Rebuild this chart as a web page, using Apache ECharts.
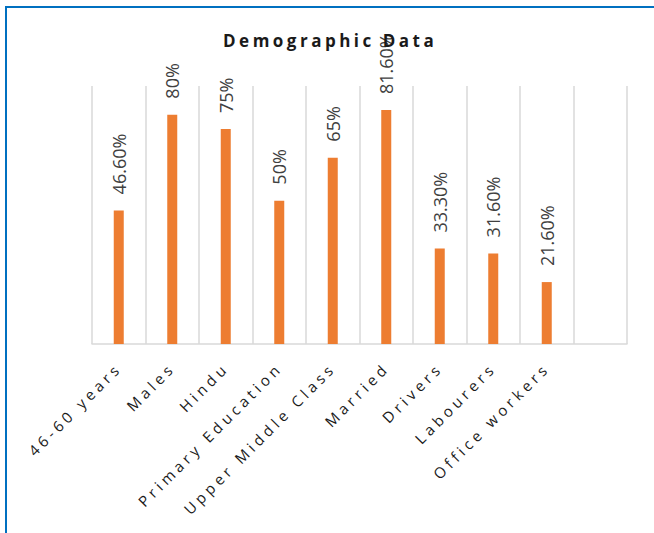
<!DOCTYPE html>
<html>
<head>
<meta charset="utf-8">
<title>Demographic Data</title>
<script src="https://cdn.jsdelivr.net/npm/echarts@6/dist/echarts.min.js"></script>
<style>
    html, body { margin: 0; padding: 0; background: #fff; }
    .com-container { position: relative; width: 654px; height: 533px; }
    .com-chart { width: 654px; height: 533px; }
    /* blue frame of the slide, only top and left edges are visible */
    .frame {
        position: absolute; left: 5px; top: 6px; right: 0; bottom: 0;
        border-left: 2px solid #0070c0; border-top: 2px solid #0070c0;
        pointer-events: none;
    }
</style>
</head>
<body>
<div class="com-container">
    <div class="com-chart" id="demo_chart"></div>
    <div class="frame"></div>
</div>
<script>
// data
const titleText = 'Demographic Data'
const categories = ['46-60 years', 'Males', 'Hindu', 'Primary Education', 'Upper Middle Class',
    'Married', 'Drivers', 'Labourers', 'Office workers', '']
const percentValues = [46.6, 80, 75, 50, 65, 81.6, 33.3, 31.6, 21.6]
const valueMax = 90

const chartInstance = echarts.init(document.getElementById('demo_chart'), null, { renderer: 'svg' })

const option = {
    animation: false,
    title: {
        text: titleText,
        left: 218,
        top: 27,
        textStyle: {
            fontFamily: 'Open Sans',
            fontWeight: 'bold',
            fontSize: 17,
            color: '#1a1a1a'
        }
    },
    grid: {
        top: 86,
        left: 92,
        right: 27,
        bottom: 189
    },
    xAxis: {
        type: 'category',
        data: categories,
        axisLine: { lineStyle: { color: '#d9d9d9', width: 1.5 } },
        axisTick: { show: false },
        splitLine: { show: true, lineStyle: { color: '#d9d9d9', width: 1.5 } },
        axisLabel: {
            interval: 0,
            rotate: 45,
            margin: 21,
            fontFamily: 'Open Sans',
            fontSize: 15,
            color: '#1a1a1a'
        }
    },
    yAxis: {
        type: 'value',
        min: 0,
        max: valueMax,
        show: false,
        splitLine: { show: false }
    },
    series: [
        {
            type: 'bar',
            data: percentValues,
            barWidth: 10,
            itemStyle: { color: '#ed7d31' },
            label: {
                show: true,
                position: 'top',
                distance: 16,
                rotate: 90,
                align: 'left',
                verticalAlign: 'middle',
                fontFamily: 'Open Sans',
                fontSize: 18,
                color: '#404040',
                formatter: (p) => {
                    // 46.6 -> 46.60%, 80 -> 80%
                    return Number.isInteger(p.value) ? p.value + '%' : p.value.toFixed(2) + '%'
                }
            }
        }
    ]
}
chartInstance.setOption(option)

// the original chart uses spaced-out letters for title and category names
function spaceOutText () {
    chartInstance.getDom().querySelectorAll('text').forEach((t) => {
        const s = t.textContent
        if (s === titleText) {
            t.style.letterSpacing = '3.5px'
        } else if (s && categories.includes(s)) {
            t.style.letterSpacing = '4px'
        }
    })
}
spaceOutText()
chartInstance.on('finished', spaceOutText)
</script>
</body>
</html>
